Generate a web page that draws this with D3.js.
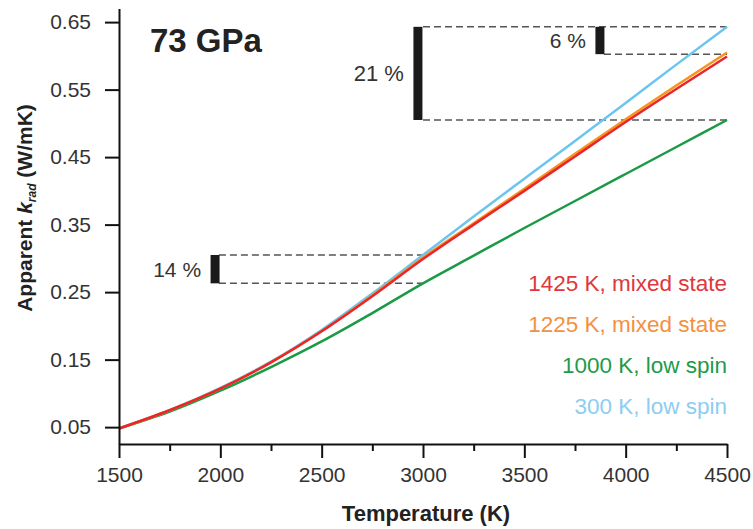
<!DOCTYPE html>
<html>
<head>
<meta charset="utf-8">
<script src="https://cdn.jsdelivr.net/npm/d3@7"></script>
<style>
  body { margin: 0; background: #fff; }
  svg { font-family: "Liberation Sans", Arial, sans-serif; }
</style>
</head>
<body>
<svg id="chart"></svg>
<script>
// datos
const temps = [1500, 1750, 2000, 2250, 2500, 2750, 3000, 3250, 3500, 3750, 4000, 4250, 4500];
const red = [0.048, 0.075, 0.107, 0.146, 0.192, 0.244, 0.299, 0.350, 0.400, 0.451, 0.502, 0.551, 0.599];
const orange = [0.048, 0.075, 0.107, 0.146, 0.192, 0.245, 0.301, 0.352, 0.403, 0.455, 0.506, 0.556, 0.605];
const green = [0.048, 0.073, 0.104, 0.139, 0.177, 0.219, 0.263, 0.304, 0.345, 0.385, 0.425, 0.465, 0.505];
const blue = [0.048, 0.075, 0.108, 0.147, 0.194, 0.248, 0.305, 0.362, 0.418, 0.474, 0.530, 0.587, 0.643];

const seriesNames = ['300 K, low spin', '1000 K, low spin', '1225 K, mixed state', '1425 K, mixed state'];
const yTicks = [0.05, 0.15, 0.25, 0.35, 0.45, 0.55, 0.65];
const xTicks = [1500, 2000, 2500, 3000, 3500, 4000, 4500];
const xMinor = [1750, 2250, 2750, 3250, 3750, 4250];

// barras de diferencia: [T, kBajo, kAlto, texto]
const bars = [
  [2975, 0.505, 0.643, '21 %'],
  [3873, 0.6025, 0.643, '6 %'],
  [1974, 0.263, 0.305, '14 %']
];

const width = 753, height = 529;
const svg = d3.select('#chart').attr('width', width).attr('height', height);

const x = d3.scaleLinear().domain([1500, 4500]).range([119, 727]);
const y = d3.scaleLinear().domain([0.025, 0.67]).range([444, 8.6]);

const series = [
  { name: seriesNames[1], vals: green, color: '#1a9a45', text: '#1e9a48' },
  { name: seriesNames[0], vals: blue, color: '#6cc5ef', text: '#8dcdf0' },
  { name: seriesNames[2], vals: orange, color: '#f7941d', text: '#f39140' },
  { name: seriesNames[3], vals: red, color: '#e8262b', text: '#e0363c' }
];

// lineas discontinuas
const dash = [
  [3000, 4500, 0.643],
  [3000, 4500, 0.505],
  [3893, 4500, 0.6025],
  [1993, 3000, 0.305],
  [1993, 3000, 0.263]
];
svg.selectAll('.dash').data(dash).enter().append('line')
  .attr('x1', d => x(d[0])).attr('x2', d => x(d[1]))
  .attr('y1', d => y(d[2])).attr('y2', d => y(d[2]))
  .attr('stroke', '#555').attr('stroke-width', 1.5)
  .attr('stroke-dasharray', '7,4');

const line = d3.line()
  .x((d, i) => x(temps[i]))
  .y(d => y(d))
  .curve(d3.curveMonotoneX);

svg.selectAll('.serie').data(series).enter().append('path')
  .attr('d', d => line(d.vals))
  .attr('fill', 'none')
  .attr('stroke', d => d.color)
  .attr('stroke-width', 2.5);

// barras negras
svg.selectAll('.bar').data(bars).enter().append('rect')
  .attr('x', d => x(d[0]) - 4.5)
  .attr('width', 9)
  .attr('y', d => y(d[2]))
  .attr('height', d => y(d[1]) - y(d[2]))
  .attr('fill', '#1a1a1a');

svg.selectAll('.barlabel').data(bars).enter().append('text')
  .attr('x', d => x(d[0]) - 14)
  .attr('y', (d, i) => i === 1 ? 48 : (y(d[1]) + y(d[2])) / 2 + 8)
  .attr('text-anchor', 'end')
  .attr('font-size', (d, i) => i === 0 ? 22 : 21)
  .attr('fill', '#333')
  .text(d => d[3]);

// ejes
svg.append('g')
  .attr('transform', `translate(0, 444)`)
  .call(d3.axisBottom(x).tickValues(xTicks).tickSize(14).tickSizeOuter(0).tickPadding(9).tickFormat(d3.format('d')));
const xMin = svg.append('g')
  .attr('transform', `translate(0, 444)`)
  .call(d3.axisBottom(x).tickValues(xMinor).tickSize(7).tickSizeOuter(0).tickFormat(''));
xMin.select('.domain').remove();

svg.append('g')
  .attr('transform', `translate(119, 0)`)
  .call(d3.axisLeft(y).tickValues(yTicks).tickSize(14).tickSizeOuter(0).tickPadding(14).tickFormat(d3.format('.2f')));

svg.selectAll('.domain, .tick line').attr('stroke', '#111').attr('stroke-width', 2);
svg.selectAll('.tick text').attr('font-size', 21).attr('fill', '#333')
  .attr('font-family', '"Liberation Sans", Arial, sans-serif');

// titulos
svg.append('text')
  .attr('x', 426).attr('y', 521)
  .attr('text-anchor', 'middle')
  .attr('font-size', 22).attr('font-weight', 'bold').attr('fill', '#222')
  .text('Temperature (K)');

const yt = svg.append('text')
  .attr('transform', 'translate(32, 208) rotate(-90)')
  .attr('text-anchor', 'middle')
  .attr('font-size', 21).attr('font-weight', 'bold').attr('fill', '#222');
yt.append('tspan').text('Apparent ');
yt.append('tspan').attr('font-style', 'italic').text('k');
yt.append('tspan').attr('font-size', 12).attr('font-style', 'italic').attr('dy', 4).text('rad');
yt.append('tspan').attr('dy', -4).text(' (W/mK)');

svg.append('text')
  .attr('x', 150).attr('y', 52)
  .attr('font-size', 33).attr('font-weight', 'bold').attr('fill', '#222')
  .text('73 GPa');

// leyenda
const legendOrder = [series[3], series[2], series[0], series[1]];
svg.selectAll('.leg').data(legendOrder).enter().append('text')
  .attr('x', 727)
  .attr('y', (d, i) => 291 + i * 41)
  .attr('text-anchor', 'end')
  .attr('font-size', 22.5)
  .attr('fill', d => d.text)
  .text(d => d.name);
</script>
</body>
</html>
